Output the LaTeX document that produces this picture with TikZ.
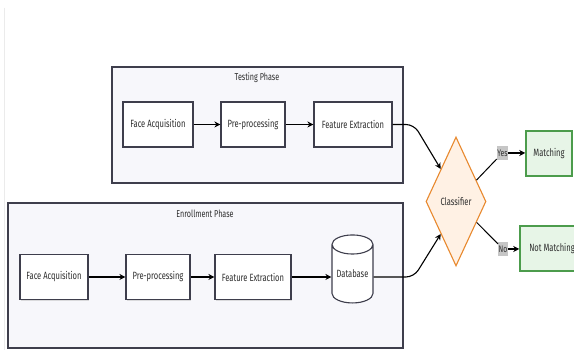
\documentclass[tikz,border=0pt]{standalone}
\usepackage{fontspec}
\setmainfont{Fira Sans}[FakeStretch=0.72]
\usetikzlibrary{positioning,arrows.meta,shapes.geometric,shadows}
\definecolor{frameline}{HTML}{3E3E4C}
\definecolor{phasebg}{HTML}{F7F7FB}
\definecolor{textgray}{HTML}{2E2E2E}
\definecolor{clsline}{HTML}{E8892E}
\definecolor{clsfill}{HTML}{FFF1E4}
\definecolor{okline}{HTML}{4C9C4C}
\definecolor{okfill}{HTML}{E7F5E7}
\definecolor{tagfill}{HTML}{C6C6C6}
\tikzstyle{phase}   = [draw=frameline, line width=1.1pt, fill=phasebg]
\tikzstyle{title}   = [text=textgray, font=\fontsize{10}{11}\selectfont]
\tikzstyle{stepbox} = [rectangle, draw=frameline, line width=1.1pt, fill=white, minimum height=45pt, inner xsep=0pt, text=textgray, font=\fontsize{10.5}{12}\selectfont, drop shadow={shadow xshift=1pt, shadow yshift=-1.2pt, fill=black!25}]
\tikzstyle{dbase}   = [cylinder, shape border rotate=90, aspect=0.6, draw=frameline, line width=1.1pt, fill=white, minimum width=41pt, minimum height=68pt, inner sep=0pt, text=textgray, font=\fontsize{10.5}{12}\selectfont]
\tikzstyle{decide}  = [diamond, draw=clsline, line width=1.1pt, fill=clsfill, minimum width=60pt, minimum height=129pt, inner sep=0pt, aspect=0.465, text=textgray, font=\fontsize{10.5}{12}\selectfont]
\tikzstyle{result}  = [rectangle, draw=okline, line width=1.5pt, fill=okfill, minimum height=45pt, text=textgray, font=\fontsize{10.5}{12}\selectfont]
\tikzstyle{tag}     = [fill=tagfill, inner xsep=0.5pt, inner ysep=3.5pt, text=textgray, font=\fontsize{9.5}{11}\selectfont]
\tikzstyle{arrow}   = [line width=1.1pt, -{Stealth[length=6pt,width=6pt]}]
\tikzstyle{link}    = [line width=1pt]

\begin{document}
\begin{tikzpicture}[x=1pt,y=1pt]
		\useasboundingbox (0,0) rectangle (574,350);
		\fill[white] (0,0) rectangle (574,350);
		\draw[black!8, line width=1pt] (4,342) -- (4,0);

		% testing phase
		\draw[phase] (112,283) rectangle (403,167);
		\node[title] (ttest) at (257,272) {Testing Phase};
		\node[stepbox, minimum width=70pt] (fa1) at (158,225.5) {Face Acquisition};
		\node[stepbox, minimum width=64pt] (pp1) at (253,225.5) {Pre-processing};
		\node[stepbox, minimum width=78pt] (fe1) at (353,225.5) {Feature Extraction};

		% enrollment phase
		\draw[phase] (8,147) rectangle (403,2);
		\node[title] (tenrol) at (205,136) {Enrollment Phase};
		\node[stepbox, minimum width=68pt] (fa2) at (54,73) {Face Acquisition};
		\node[stepbox, minimum width=64pt] (pp2) at (158,73) {Pre-processing};
		\node[stepbox, minimum width=76pt] (fe2) at (253,73) {Feature Extraction};
		\node[dbase] (db) at (352.5,76) {Database};

		% decision
		\node[decide] (cls) at (456,148.5) {Classifier};
		\node[result, minimum width=46pt] (match) at (549,196.5) {Matching};
		\node[result, minimum width=64pt] (nomatch) at (552,101.5) {Not Matching};
		\node[tag] (yes) at (502.5,197) {Yes};
		\node[tag] (no) at (503,101) {No};

		\coordinate (tbend) at (414,225.5);
		\coordinate (ebend) at (414,73);

		\draw[arrow] (fa1) -- (pp1);
		\draw[arrow] (pp1) -- (fe1);
		\draw[arrow] (fa2) -- (pp2);
		\draw[arrow] (pp2) -- (fe2);
		\draw[arrow] (fe2) -- (fe2 -| db.west);
		\draw[arrow, rounded corners=8pt] (fe1.east) -- (tbend) -- (cls.north west);
		\draw[arrow, rounded corners=8pt] (db.east |- ebend) -- (ebend) -- (cls.south west);
		\draw[link] (cls) -- (yes);
		\draw[link] (cls) -- (no);
		\draw[arrow] (yes.east) -- (yes.east -| match.west);
		\draw[arrow] (no.east) -- (no.east -| nomatch.west);
	\end{tikzpicture}
\end{document}
